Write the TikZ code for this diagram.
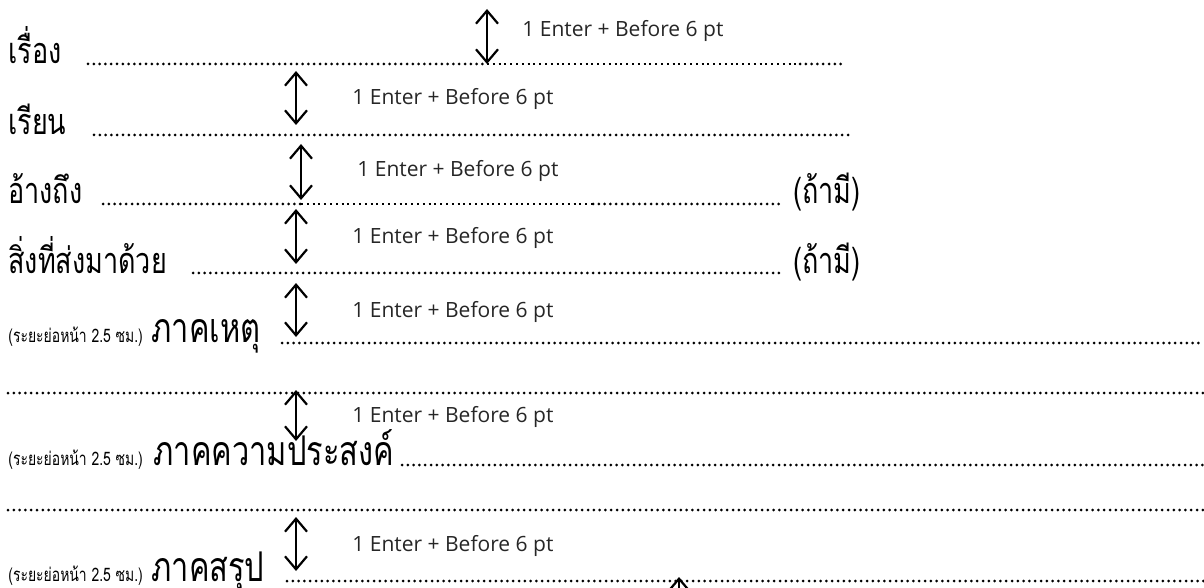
\documentclass[tikz,border=0pt]{standalone}
\usepackage{fontspec}
\setmainfont{Open Sans}
\newfontfamily\thai[Script=Thai,FakeStretch=0.75]{Loma}
\usetikzlibrary{arrows.meta}
\begin{document}
\begin{tikzpicture}[x=0.5pt,y=-0.5pt,line join=miter,line cap=round,>={Straight Barb[length=6.5pt,width=11pt]},
  dots/.style={line width=1.5pt,dash pattern=on 0pt off 2.9pt},
  faint/.style={line width=0.55pt,line cap=butt,dash pattern=on 1pt off 1.9pt},
  big/.style={font=\thai\fontsize{18}{20}\selectfont,anchor=base west,inner sep=0pt},
  bigger/.style={font=\thai\fontsize{20.5}{23}\selectfont,anchor=base west,inner sep=0pt},
  small/.style={font=\thai\fontsize{9.3}{11}\selectfont,anchor=base west,inner sep=0pt},
  gap/.style={font=\fontsize{10.5}{12}\selectfont,anchor=base west,inner sep=0pt,text=black!85},
  space/.style={<->,line width=1.1pt}]
\useasboundingbox (0,0) rectangle (1204,588);
\clip (0,0) rectangle (1204,588);
% headings of the memo
\foreach \n/\x/\y/\t in {1/8/64/เรื่อง,2/8/135/เรียน,3/8/204/อ้างถึง,4/8/273/สิ่งที่ส่งมาด้วย}{\node[big] (head\n) at (\x,\y) {\t};}
\foreach \n/\y in {3/204,4/273}{\node[big] (opt\n) at (793,\y) {(ถ้ามี)};}
% paragraphs
\foreach \n/\y/\s/\t in {5/343/4pt/ภาคเหตุ,7/465/5pt/ภาคความประสงค์,9/581/4pt/ภาคสรุป}{
  \node[small] (ind\n) at (8,\y) {(ระยะย่อหน้า 2.5 ซม.)};
  \node[bigger] (part\n) at ([xshift=\s]ind\n.base east) {\t};}
% dotted lines
\foreach \y/\a/\b in {64/88/487,64/800/843,135/94/848,204/103/301,204/593/781,273/193/781,343/282/1204,393/8/1204,465/402/1204,510/8/1204,581/287/1204}{\draw[dots] (\a,\y) -- (\b,\y);}
\foreach \y/\a/\b in {64/487/800,204/301/593}{\draw[faint] (\a,\y) -- (\b,\y);}
% spacing arrows
\foreach \n/\x/\a/\b/\lx/\ly in {1/487/9/64/522/37,2/296/71/125/352/105,3/301/144/200/357/177,4/296/209/264/352/243,5/296/283/337/352/317,6/296/390/441/352/422,7/296/517/571/352/551}{
  \coordinate (up\n) at (\x,\a);
  \coordinate (dn\n) at (\x,\b);
  \draw[space] (up\n) -- (dn\n);
  \node[gap] (lab\n) at (\lx,\ly) {1 Enter + Before 6 pt};}
\coordinate (tail) at (679,610);
\coordinate (tip) at (679,577);
\draw[->,line width=1.1pt] (tail) -- (tip);
\end{tikzpicture}
\end{document}
